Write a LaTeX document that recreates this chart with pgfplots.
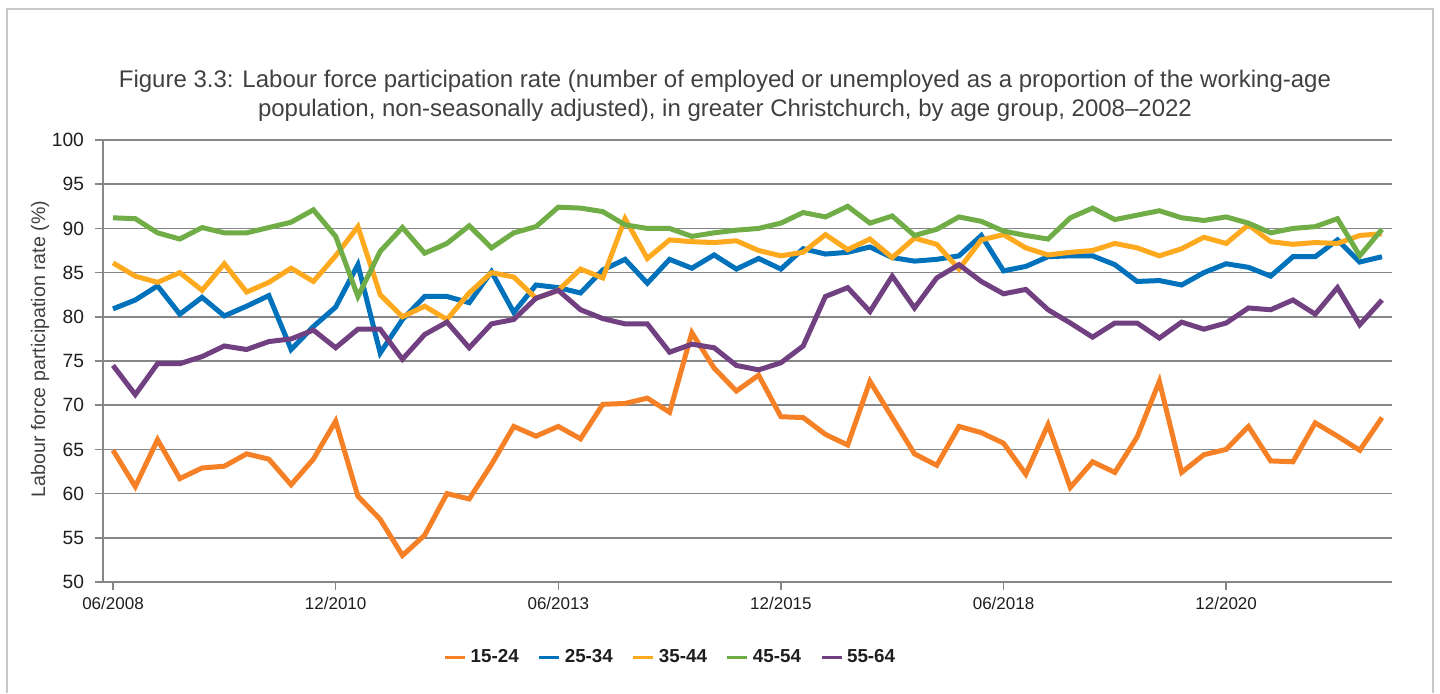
\documentclass[border=0pt]{standalone}
\usepackage{fontspec}
\setmainfont{Liberation Sans}
\usepackage{pgfplots}
\usepackage{pgfplotstable}
\pgfplotsset{compat=1.18}
\definecolor{cA}{RGB}{245,128,37}
\definecolor{cB}{RGB}{0,114,188}
\definecolor{cC}{RGB}{255,169,30}
\definecolor{cD}{RGB}{112,173,71}
\definecolor{cE}{RGB}{112,64,128}
\definecolor{gridgray}{RGB}{134,134,134}
\definecolor{framegray}{RGB}{200,200,200}
\definecolor{titlegray}{RGB}{64,64,64}
\definecolor{textdark}{RGB}{30,30,30}

\pgfplotstableread{
i a b c d e
0 64.9 80.9 86.1 91.2 74.5
1 60.8 81.9 84.6 91.1 71.2
2 66.1 83.5 83.9 89.5 74.7
3 61.7 80.3 85.0 88.8 74.7
4 62.9 82.2 83.0 90.1 75.5
5 63.1 80.1 86.0 89.5 76.7
6 64.5 81.2 82.8 89.5 76.3
7 63.9 82.4 83.9 90.1 77.2
8 61.0 76.3 85.5 90.7 77.5
9 63.9 78.9 84.0 92.1 78.5
10 68.2 81.1 86.9 89.1 76.5
11 59.7 85.9 90.2 82.3 78.6
12 57.1 75.9 82.5 87.4 78.6
13 53.0 79.7 80.0 90.1 75.2
14 55.3 82.3 81.2 87.2 78.0
15 60.0 82.3 79.7 88.3 79.4
16 59.4 81.6 82.7 90.3 76.5
17 63.3 85.1 85.0 87.8 79.2
18 67.6 80.5 84.5 89.5 79.7
19 66.5 83.6 82.1 90.2 82.1
20 67.6 83.3 83.0 92.4 83.0
21 66.2 82.7 85.4 92.3 80.8
22 70.1 85.3 84.4 91.9 79.8
23 70.2 86.5 91.1 90.4 79.2
24 70.8 83.8 86.6 90.0 79.2
25 69.2 86.5 88.7 90.0 76.0
26 78.2 85.5 88.5 89.1 76.9
27 74.2 87.0 88.4 89.5 76.5
28 71.6 85.4 88.6 89.8 74.5
29 73.4 86.6 87.5 90.0 74.0
30 68.7 85.4 86.9 90.6 74.8
31 68.6 87.7 87.3 91.8 76.7
32 66.7 87.1 89.3 91.3 82.3
33 65.5 87.3 87.6 92.5 83.3
34 72.7 87.9 88.8 90.6 80.6
35 68.6 86.7 86.7 91.4 84.6
36 64.5 86.3 88.9 89.2 81.0
37 63.2 86.5 88.2 89.9 84.4
38 67.6 86.9 85.4 91.3 85.9
39 66.9 89.2 88.7 90.8 84.0
40 65.7 85.2 89.3 89.7 82.6
41 62.2 85.7 87.8 89.2 83.1
42 67.8 86.8 87.0 88.8 80.8
43 60.7 86.9 87.3 91.2 79.3
44 63.6 86.9 87.5 92.3 77.7
45 62.4 85.9 88.3 91.0 79.3
46 66.4 84.0 87.8 91.5 79.3
47 72.7 84.1 86.9 92.0 77.6
48 62.4 83.6 87.7 91.2 79.4
49 64.4 85.0 89.0 90.9 78.6
50 65.0 86.0 88.3 91.3 79.3
51 67.6 85.6 90.4 90.6 81.0
52 63.7 84.6 88.5 89.5 80.8
53 63.6 86.8 88.2 90.0 81.9
54 68.0 86.8 88.4 90.2 80.3
55 66.5 88.7 88.3 91.1 83.3
56 64.9 86.2 89.2 86.9 79.1
57 68.6 86.8 89.4 89.9 81.9
}\data

\begin{document}
\begin{tikzpicture}
\useasboundingbox (0,0) rectangle (720pt,346.5pt);
\draw[framegray, line width=1pt] (3.5pt,0) -- (3.5pt,342pt) -- (716.5pt,342pt) -- (716.5pt,0);
\node[align=center, text=titlegray, font=\fontsize{12}{14.5}\selectfont] at (362.5pt,298.75pt)
 {Figure 3.3: Labour force participation rate (number of employed or unemployed as a proportion of the working-age\\
 population, non-seasonally adjusted), in greater Christchurch, by age group, 2008--2022};
\node[rotate=90, text=titlegray, font=\fontsize{9.8}{11}\selectfont] at (20pt,172pt)
 {Labour force participation rate (\%)};
\begin{axis}[
 at={(51.5pt,55.5pt)}, anchor=south west,
 scale only axis, width=644.5pt, height=221pt,
 xmin=-0.45, xmax=57.45, ymin=50, ymax=100,
 ytick={50,55,...,100},
 xtick={0,10,20,30,40,50},
 xticklabels={06/2008,12/2010,06/2013,12/2015,06/2018,12/2020},
 axis x line*=bottom, axis y line*=left,
 axis line style={gridgray, line width=0.75pt, -},
 ymajorgrids, grid style={gridgray, line width=0.75pt},
 tick align=outside,
 major tick length=4pt,
 tick style={gridgray, line width=0.75pt},
 /pgf/number format/assume math mode=true,
 yticklabel style={text=textdark, font=\fontsize{9.6}{11}\selectfont, xshift=-2pt},
 xticklabel style={text=textdark, font=\fontsize{8.5}{10}\selectfont},
 legend style={at={(axis description cs:0.441,-0.170)}, anchor=center,
   draw=none, fill=none, text=textdark,
   font=\bfseries\fontsize{9.4}{11}\selectfont,
   /tikz/every even column/.append style={column sep=7.5pt}},
 legend columns=5,
 legend image code/.code={\draw[#1, line width=1.5pt] (0pt,0pt) -- (10pt,0pt);},
 every axis plot/.append style={line width=2.5pt, line join=miter},
]
\addplot[cA] table[x=i,y=a]{\data}; \addlegendentry{15-24}
\addplot[cB] table[x=i,y=b]{\data}; \addlegendentry{25-34}
\addplot[cC] table[x=i,y=c]{\data}; \addlegendentry{35-44}
\addplot[cD] table[x=i,y=d]{\data}; \addlegendentry{45-54}
\addplot[cE] table[x=i,y=e]{\data}; \addlegendentry{55-64}
\end{axis}
\end{tikzpicture}
\end{document}
